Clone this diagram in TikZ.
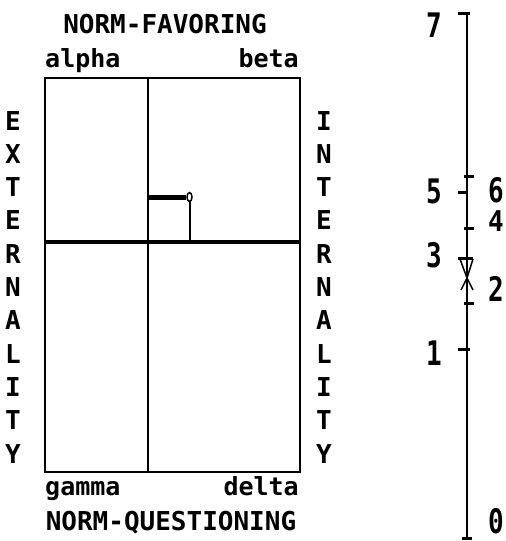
\documentclass[tikz,border=0pt]{standalone}
\usepackage{fontspec}
\newfontfamily\pixfont{DejaVu Sans Mono}
\usetikzlibrary{positioning}
\newcommand{\tallnum}[1]{\scalebox{1}[1.3]{#1}}
\tikzset{
  pix/.style={font=\pixfont\bfseries\fontsize{26}{26}\selectfont, inner sep=0pt},
  pixlow/.style={font=\pixfont\bfseries\fontsize{25}{25}\selectfont, inner sep=0pt},
  frame/.style={line width=2pt},
  tick/.style={line width=3pt}
}

\begin{document}
\begin{tikzpicture}[x=1pt,y=-1pt]
  \useasboundingbox[fill=white] (0,0) rectangle (506,541);
  % quadrant box
  \coordinate (nw) at (45,78);
  \coordinate (se) at (300,472);
  \coordinate (ctop) at (148,78);
  \coordinate (cbot) at (148,472);
  \coordinate (midl) at (45,242);
  \coordinate (midr) at (300,242);
  \draw[frame] (nw) rectangle (se);
  \draw[frame] (ctop) -- (cbot);
  \draw[line width=3.5pt] (midl) -- (midr);
  % position marker
  \coordinate (axis) at (148,197);
  \coordinate (pt) at (189.5,197);
  \coordinate (foot) at (189.5,242);
  \draw[line width=5pt] (axis) -- (186,197);
  \draw[frame] (pt) -- (foot);
  \draw[line width=1.5pt,fill=white] (pt) ellipse (2.5 and 4.5);
  % labels
  \node[pix,anchor=base] (top) at (165,33) {NORM-FAVORING};
  \node[pixlow,anchor=base west] (alpha) at (45,67) {alpha};
  \node[pixlow,anchor=base east] (beta) at (299,67) {beta};
  \node[pixlow,anchor=base west] (gamma) at (45,495) {gamma};
  \node[pixlow,anchor=base east] (delta) at (299,495) {delta};
  \node[pix,anchor=base] (bottom) at (171,530) {NORM-QUESTIONING};
  \foreach \ch [count=\i] in {E,X,T,E,R,N,A,L,I,T,Y}
    \node[pix,anchor=base] (ext\i) at (13,{130+(\i-1)*33.3}) {\ch};
  \foreach \ch [count=\i] in {I,N,T,E,R,N,A,L,I,T,Y}
    \node[pix,anchor=base] (int\i) at (324,{130+(\i-1)*33.3}) {\ch};
  % scale
  \coordinate (stop) at (467,13);
  \coordinate (sbot) at (467,538);
  \draw[frame] (stop) -- (sbot);
  \foreach \y/\a/\b in {13/458/470, 176/464/474, 192/458/468, 228/464/474,
                        303/464/474, 349/458/470, 538/462/472}
    \draw[tick] (\a,\y) -- (\b,\y);
  \draw[tick] (458,258) -- (473,258);
  \draw[line width=1.5pt] (460,259) -- (467,278) -- (473,259);
  \draw[line width=1.5pt] (461,290) -- (467,278) -- (473,290);
  \foreach \v/\y in {7/25, 5/191, 3/255, 1/353}
    \node[pix] (l\v) at (434,\y) {\tallnum{\v}};
  \foreach \v/\y in {6/190, 0/521}
    \node[pix] (r\v) at (496,\y) {\tallnum{\v}};
  \node[pix] (r4) at (496,221) {\scalebox{1}[1.1]{4}};
  \node[pix] (r2) at (496,289) {\tallnum{2}};
\end{tikzpicture}
\end{document}
